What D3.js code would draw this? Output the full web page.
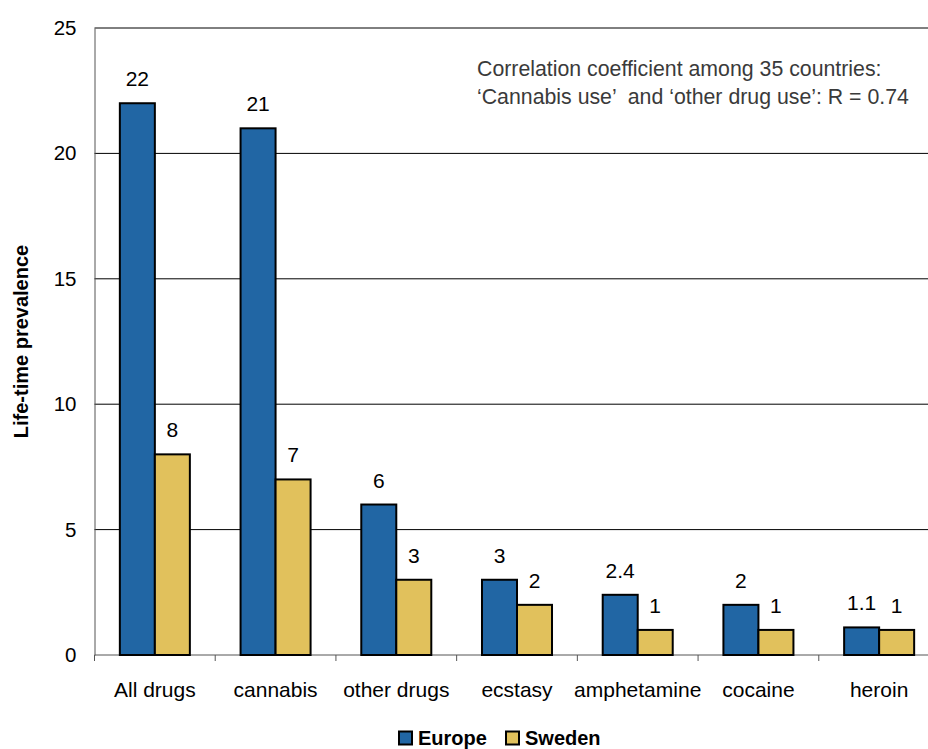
<!DOCTYPE html>
<html>
<head>
<meta charset="utf-8">
<script src="https://cdn.jsdelivr.net/npm/d3@7"></script>
<style>
  body { margin: 0; background: #fff; }
  text { font-family: Arial, "Liberation Sans", sans-serif; }
</style>
</head>
<body>
<div id="chart"></div>
<script>
// data
var categories = ["All drugs", "cannabis", "other drugs", "ecstasy", "amphetamine", "cocaine", "heroin"]
var europe = [22, 21, 6, 3, 2.4, 2, 1.1]
var sweden = [8, 7, 3, 2, 1, 1, 1]
var seriesNames = ["Europe", "Sweden"]
var yTicks = [0, 5, 10, 15, 20, 25]
var note = ["Correlation coefficient among 35 countries:",
            "\u2018Cannabis use\u2019  and \u2018other drug use\u2019: R = 0.74"]

var colors = {Europe: "#2166a4", Sweden: "#e1c15c"}

var margin = {top: 28, left: 94.5}
    width = 845
    height = 627

var svg = d3.select("#chart")
  .append("svg")
    .attr("width", 928)
    .attr("height", 749)

var g = svg.append("g")
    .attr("transform", "translate(" + margin.left + "," + margin.top + ")")

var x = d3.scaleBand()
  .domain(categories)
  .range([0, width])
  .paddingInner(0.42)
  .paddingOuter(0.21)

var x1 = d3.scaleBand()
  .domain(seriesNames)
  .range([0, x.bandwidth()])

var y = d3.scaleLinear()
  .domain([0, 25])
  .range([height, 0])

// gridlines
g.selectAll(".grid")
  .data(yTicks.filter(function(d){ return d > 0 }))
  .enter()
  .append("line")
    .attr("x1", 0)
    .attr("x2", width)
    .attr("y1", function(d){ return y(d) })
    .attr("y2", function(d){ return y(d) })
    .attr("stroke", "#000")
    .attr("stroke-width", 1)

// y axis
var yAxis = g.append("g")
    .call(d3.axisLeft(y).tickValues(yTicks).tickSize(0).tickPadding(18))
yAxis.select(".domain").attr("stroke", "#555")
yAxis.selectAll("text")
    .attr("font-size", 20.5)
    .attr("fill", "#000")
    .attr("font-family", "Arial, 'Liberation Sans', sans-serif")

// x axis
var step = x.step()
var boundaries = d3.range(categories.length + 1).map(function(i){ return i * step })
var xAxis = g.append("g")
    .attr("transform", "translate(0," + height + ")")
xAxis.append("line")
    .attr("x1", 0).attr("x2", width)
    .attr("stroke", "#555")
xAxis.selectAll(".tick")
  .data(boundaries)
  .enter()
  .append("line")
    .attr("x1", function(d){ return d })
    .attr("x2", function(d){ return d })
    .attr("y1", 0)
    .attr("y2", 6)
    .attr("stroke", "#555")
xAxis.selectAll(".lbl")
  .data(categories)
  .enter()
  .append("text")
    .attr("x", function(d){ return x(d) + x.bandwidth() / 2 })
    .attr("y", 42)
    .attr("text-anchor", "middle")
    .attr("font-size", 21)
    .text(function(d){ return d })

// bars
var rows = categories.map(function(c, i){
  return {cat: c, values: [{key: "Europe", v: europe[i]}, {key: "Sweden", v: sweden[i]}]}
})

var groups = g.selectAll(".grp")
  .data(rows)
  .enter()
  .append("g")
    .attr("transform", function(d){ return "translate(" + x(d.cat) + ",0)" })

groups.selectAll("rect")
  .data(function(d){ return d.values })
  .enter()
  .append("rect")
    .attr("x", function(d){ return x1(d.key) })
    .attr("y", function(d){ return y(d.v) })
    .attr("width", x1.bandwidth())
    .attr("height", function(d){ return y(0) - y(d.v) })
    .attr("fill", function(d){ return colors[d.key] })
    .attr("stroke", "#000")
    .attr("stroke-width", 2)

groups.selectAll(".val")
  .data(function(d){ return d.values })
  .enter()
  .append("text")
    .attr("x", function(d){ return x1(d.key) + x1.bandwidth() / 2 })
    .attr("y", function(d){ return y(d.v) - 17 })
    .attr("text-anchor", "middle")
    .attr("font-size", 21)
    .text(function(d){ return d.v })

// y label
svg.append("text")
    .attr("transform", "translate(28," + (margin.top + height / 2) + ") rotate(-90)")
    .attr("text-anchor", "middle")
    .attr("font-size", 20)
    .attr("font-weight", "bold")
    .text("Life-time prevalence")

// note (keep the double space)
svg.selectAll(".note")
  .data(note)
  .enter()
  .append("text")
    .attr("x", 477)
    .attr("y", function(d, i){ return 76 + i * 28 })
    .attr("font-size", 21.3)
    .attr("fill", "#3a3a3a")
    .style("white-space", "pre")
    .text(function(d){ return d })

// legend
var legend = svg.append("g")
    .attr("transform", "translate(399,738)")
var lx = [0, 107]
seriesNames.forEach(function(s, i){
  legend.append("rect")
      .attr("x", lx[i])
      .attr("y", -6.5)
      .attr("width", 13)
      .attr("height", 13)
      .attr("fill", colors[s])
      .attr("stroke", "#000")
      .attr("stroke-width", 2)
  legend.append("text")
      .attr("x", lx[i] + 19)
      .attr("y", 7)
      .attr("font-size", 20)
      .attr("font-weight", "bold")
      .text(s)
})
</script>
</body>
</html>
